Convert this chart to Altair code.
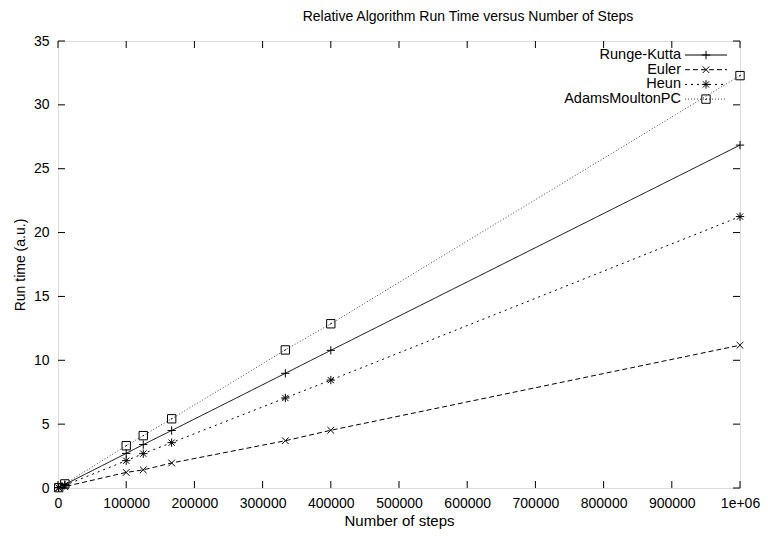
import altair as alt
import pandas as pd

# ---- data ----
series_names = ["Runge-Kutta", "Euler", "Heun", "AdamsMoultonPC"]
steps = [1000, 10000, 100000, 125000, 166667, 333333, 400000, 1000000]
runge_kutta = [0.03, 0.27, 2.71, 3.40, 4.50, 8.98, 10.78, 26.85]
euler = [0.01, 0.11, 1.22, 1.42, 1.96, 3.70, 4.52, 11.18]
heun = [0.02, 0.21, 2.14, 2.69, 3.55, 7.05, 8.45, 21.25]
adams_moulton = [0.03, 0.32, 3.31, 4.10, 5.42, 10.81, 12.86, 32.29]

x_ticks = [0, 100000, 200000, 300000, 400000, 500000, 600000, 700000, 800000, 900000, 1000000]
y_ticks = [0, 5, 10, 15, 20, 25, 30, 35]

# ---- styles ----
FONT = "Liberation Sans"
W, H = 682, 447
dashes = [[1, 0], [5, 3], [2, 4], [1, 2]]
line_colors = ["black", "black", "black", "#444444"]
shapes = [
    "M-1,0L1,0M0,-1L0,1",
    "M-0.8,-0.8L0.8,0.8M-0.8,0.8L0.8,-0.8",
    "M-1,0L1,0M0,-1L0,1M-0.75,-0.75L0.75,0.75M-0.75,0.75L0.75,-0.75",
    "M-1,-1L1,-1L1,1L-1,1ZM-0.2,0.1L0.2,-0.1",
]

rows = []
for name, vals in zip(series_names, [runge_kutta, euler, heun, adams_moulton]):
    for s, v in zip(steps, vals):
        rows.append({"series": name, "steps": s, "time": v})
df = pd.DataFrame(rows)

xscale = alt.Scale(domain=[0, 1000000], nice=False, zero=False)
yscale = alt.Scale(domain=[0, 35], nice=False)

xaxis = alt.Axis(values=x_ticks, ticks=False, domain=False, grid=False,
                 labelExpr="datum.value == 1000000 ? '1e+06' : format(datum.value, 'd')",
                 labelFont=FONT, labelFontSize=14, labelColor="black", labelPadding=8,
                 title="Number of steps", titleFont=FONT, titleFontSize=15,
                 titleFontWeight="normal", titleColor="black", titlePadding=3,
                 labelFlush=False, labelOverlap=False)
yaxis = alt.Axis(values=y_ticks, ticks=False, domain=False, grid=False,
                 labelFont=FONT, labelFontSize=14, labelColor="black", labelPadding=9,
                 title="Run time (a.u.)", titleFont=FONT, titleFontSize=14,
                 titleFontWeight="normal", titleColor="black", titlePadding=6,
                 labelFlush=False, labelOverlap=False)

base = alt.Chart(df)
lines = base.mark_line(strokeWidth=1).encode(
    x=alt.X("steps:Q", scale=xscale, axis=xaxis),
    y=alt.Y("time:Q", scale=yscale, axis=yaxis),
    strokeDash=alt.StrokeDash("series:N", scale=alt.Scale(domain=series_names, range=dashes), legend=None),
    color=alt.Color("series:N", scale=alt.Scale(domain=series_names, range=line_colors), legend=None),
    detail="series:N",
)
points = base.mark_point(filled=False, strokeWidth=1, size=70, opacity=1, color="black").encode(
    x=alt.X("steps:Q", scale=xscale),
    y=alt.Y("time:Q", scale=yscale),
    shape=alt.Shape("series:N", scale=alt.Scale(domain=series_names, range=shapes), legend=None),
)

# inward mirrored ticks
ydf = pd.DataFrame({"v": y_ticks})
xdf = pd.DataFrame({"v": x_ticks})
tick_layers = [
    alt.Chart(ydf).mark_rule(color="black", strokeWidth=1).encode(
        y=alt.Y("v:Q", scale=yscale), x=alt.value(0), x2=alt.value(7)),
    alt.Chart(ydf).mark_rule(color="black", strokeWidth=1).encode(
        y=alt.Y("v:Q", scale=yscale), x=alt.value(W - 7), x2=alt.value(W)),
    alt.Chart(xdf).mark_rule(color="black", strokeWidth=1).encode(
        x=alt.X("v:Q", scale=xscale), y=alt.value(H - 7), y2=alt.value(H)),
    alt.Chart(xdf).mark_rule(color="black", strokeWidth=1).encode(
        x=alt.X("v:Q", scale=xscale), y=alt.value(0), y2=alt.value(7)),
]

# gnuplot-style key (text right-aligned, then sample)
legend_layers = []
for i, name in enumerate(series_names):
    yy = 14 + 14.7 * i
    ldf = pd.DataFrame({"label": [name]})
    legend_layers.append(alt.Chart(ldf).mark_text(align="right", baseline="middle", font=FONT,
                                                  fontSize=14.5, color="black").encode(
        x=alt.value(623), y=alt.value(yy), text="label:N"))
    legend_layers.append(alt.Chart(ldf).mark_rule(strokeWidth=1, color=line_colors[i],
                                                  strokeDash=dashes[i]).encode(
        x=alt.value(627), x2=alt.value(669), y=alt.value(yy)))
    legend_layers.append(alt.Chart(ldf).mark_point(shape=shapes[i], size=70, filled=False,
                                                   strokeWidth=1, opacity=1, color="black").encode(
        x=alt.value(648), y=alt.value(yy)))

chart = alt.layer(lines, points, *tick_layers, *legend_layers).properties(
    width=W, height=H,
    autosize="none",
    padding={"left": 50, "top": 33, "right": 20, "bottom": 41},
    title=alt.TitleParams("Relative Algorithm Run Time versus Number of Steps", font=FONT,
                          fontSize=14, fontWeight="normal", color="black", anchor="middle",
                          offset=10, dx=69),
).configure_view(stroke="black", strokeWidth=1).configure(background="white")

chart.save("out.html", embed_options={"renderer": "svg", "actions": False})
